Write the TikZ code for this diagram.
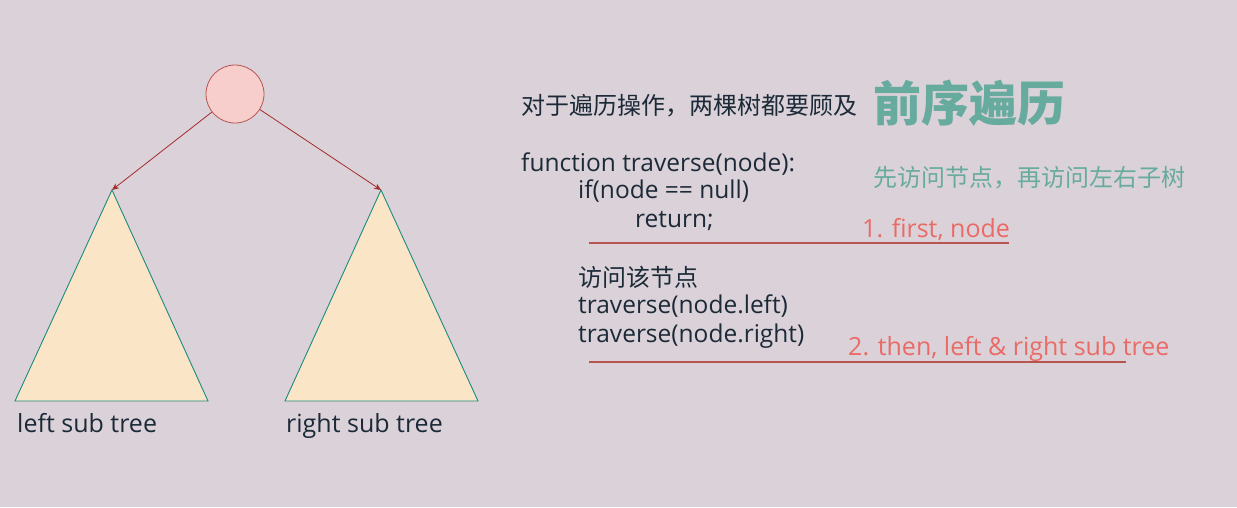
\documentclass[tikz,border=0pt]{standalone}
\usepackage{fontspec}
\setmainfont{Open Sans}
\newfontfamily\cjk{Noto Sans CJK SC}
\definecolor{bg}{HTML}{DBD2D9}
\definecolor{rootfill}{HTML}{F8CECC}
\definecolor{rootdraw}{HTML}{B85450}
\definecolor{trifill}{HTML}{FAE5C6}
\definecolor{tridraw}{HTML}{1B8A80}
\definecolor{arrowc}{HTML}{A52A2A}
\definecolor{txt}{HTML}{1C2A38}
\definecolor{greent}{HTML}{67AB9F}
\definecolor{redt}{HTML}{EA6B66}
\definecolor{redline}{HTML}{B85450}
\tikzset{
  rootnode/.style={circle, draw=rootdraw, fill=rootfill, minimum size=58pt, inner sep=0pt, line width=0.8pt},
  tri/.style={draw=tridraw, fill=trifill, line width=0.9pt, line join=miter},
  edge/.style={draw=arrowc, line width=0.8pt, -{Stealth[length=7pt,width=6pt]}},
  lbl/.style={font=\fontsize{25}{28}\selectfont, text=txt, inner sep=0pt, anchor=base west},
  code/.style={font=\fontsize{24.5}{28}\selectfont, text=txt, inner sep=0pt, anchor=base west},
  cjktext/.style={font=\cjk\fontsize{24}{28}\selectfont, text=txt, inner sep=0pt, anchor=west},
  note/.style={font=\fontsize{25}{28}\selectfont, text=redt, inner sep=0pt, anchor=base west},
  uline/.style={draw=redline, line width=1.5pt},
}
\usetikzlibrary{arrows.meta}
\begin{document}
\begin{tikzpicture}[x=1pt,y=-1pt]
\fill[bg] (0,0) rectangle (1237,507);
\useasboundingbox (0,0) rectangle (1237,507);

% tree
\node[rootnode] (root) at (235,94) {};
\coordinate (lapex) at (112,190);
\coordinate (lbl1) at (15,401);
\coordinate (lbr1) at (208,401);
\coordinate (rapex) at (381,190);
\coordinate (rbl1) at (285,401);
\coordinate (rbr1) at (478,401);
\path[tri] (lapex) -- (lbr1) -- (lbl1) -- cycle;
\path[tri] (rapex) -- (rbr1) -- (rbl1) -- cycle;
\draw[edge] (root.-142) -- (lapex);
\draw[edge] (root.-32) -- (rapex);
\node[lbl] (ltxt) at (17,432) {left sub tree};
\node[lbl] (rtxt) at (286,432) {right sub tree};

% right side
\node[cjktext] (head) at (521,106) {对于遍历操作，两棵树都要顾及};
\node[font=\cjk\bfseries\fontsize{48}{52}\selectfont, text=greent, inner sep=0pt, anchor=west] (title) at (873,103) {前序遍历};
\node[font=\cjk\fontsize{24}{28}\selectfont, text=greent, inner sep=0pt, anchor=west] (sub) at (873,178) {先访问节点，再访问左右子树};

\node[code] (c1) at (521,171) {function traverse(node):};
\node[code] (c2) at (578,198) {if(node == null)};
\node[code] (c3) at (635,227) {return;};
\node[note] (n1) at (862,237) {1. first, node};
\coordinate (u1a) at (589,243);
\coordinate (u1b) at (1009,243);
\draw[uline] (u1a) -- (u1b);

\node[cjktext] (c4) at (578,277) {访问该节点};
\node[code] (c5) at (578,313) {traverse(node.left)};
\node[code] (c6) at (578,342) {traverse(node.right)};
\node[note] (n2) at (848,355) {2. then, left \& right sub tree};
\coordinate (u2a) at (589,362);
\coordinate (u2b) at (1126,362);
\draw[uline] (u2a) -- (u2b);
\end{tikzpicture}
\end{document}
